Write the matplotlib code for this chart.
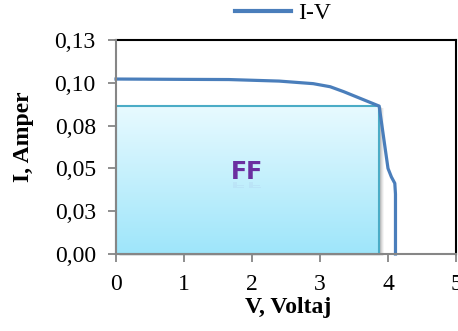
import numpy as np
import matplotlib
matplotlib.use("Agg")
import matplotlib.pyplot as plt
from decimal import Decimal, ROUND_HALF_UP
from matplotlib.patches import Rectangle, PathPatch
from matplotlib.ticker import FuncFormatter
from matplotlib.textpath import TextPath
from matplotlib.font_manager import FontProperties
from matplotlib.transforms import Affine2D, ScaledTranslation

# I-V characteristic
voltage = [0.0, 1.0, 1.66, 2.4, 2.9, 3.15, 3.35, 3.87, 4.0, 4.05, 4.10, 4.11, 4.11]
current = [0.1022, 0.1020, 0.1019, 0.1010, 0.0995, 0.0977, 0.0948, 0.0864,
           0.0500, 0.0450, 0.0413, 0.0350, 0.0]

# maximum power point spanning the fill-factor rectangle
v_mp = 3.87
i_mp = 0.0864

x_ticks = [0, 1, 2, 3, 4, 5]
y_ticks = [0.0, 0.025, 0.05, 0.075, 0.10, 0.125]

serif = "Liberation Serif"
line_color = "#4a7ebb"
label_size = 17


def comma_fmt(v, pos):
    d = Decimal(str(float(v))).quantize(Decimal("0.01"), rounding=ROUND_HALF_UP)
    return f"{d:.2f}".replace(".", ",")


fig = plt.figure(figsize=(4.58, 3.31), dpi=100)
ax = fig.add_axes([116 / 458, 77 / 331, 340 / 458, 214 / 331])
ax.set_xlim(0, 5)
ax.set_ylim(0, 0.125)

# soft drop shadow of the rectangle
for k, a in enumerate([0.10, 0.08, 0.06, 0.04]):
    dx = 0.02 + 0.015 * k
    dy = 0.0004 + 0.0003 * k
    ax.add_patch(Rectangle((0 + dx, 0 - dy), v_mp, i_mp, facecolor="#000000",
                           edgecolor="none", alpha=a, zorder=1, clip_on=False))

# gradient-filled rectangle
grad = np.linspace(0, 1, 256).reshape(-1, 1)
top = np.array([0.91, 0.98, 1.0])
bot = np.array([0.62, 0.90, 0.98])
img = top * (1 - grad[..., None]) + bot * grad[..., None]
img = img[::-1]
im = ax.imshow(img, extent=(0, v_mp, 0, i_mp), aspect="auto", origin="lower",
               zorder=2, interpolation="bilinear")
rect = Rectangle((0, 0), v_mp, i_mp, facecolor="none", edgecolor="#4bacc6",
                 linewidth=1.5, zorder=3, clip_on=False)
ax.add_patch(rect)
im.set_clip_path(rect)

# "FF" label with a faint mirrored reflection below it
ff_x, ff_base = 1.92, 0.0436
ff_size = 17
ff_font = FontProperties(family="DejaVu Sans", weight="bold", size=ff_size)
ax.text(ff_x, ff_base, "FF", color="#6b2fa0", family="DejaVu Sans", fontweight="bold",
        fontsize=ff_size, ha="center", va="baseline", zorder=4)
tp = TextPath((0, 0), "FF", size=ff_size, prop=ff_font)
ext = tp.get_extents()
refl_tr = (Affine2D().translate(-(ext.x0 + ext.x1) / 2, 0).scale(1 / 72, -0.35 / 72)
           + fig.dpi_scale_trans
           + ScaledTranslation(ff_x, ff_base - 0.0018, ax.transData))
ax.add_patch(PathPatch(tp, transform=refl_tr, facecolor="#6b2fa0", edgecolor="none",
                       alpha=0.05, zorder=4))

ax.plot(voltage, current, color=line_color, linewidth=2.3, zorder=5,
        label="I-V", solid_joinstyle="round", clip_on=False)

ax.set_xticks(x_ticks)
ax.set_yticks(y_ticks)
ax.yaxis.set_major_formatter(FuncFormatter(comma_fmt))
ax.tick_params(axis="both", direction="out", length=5.5, width=1.3, color="#868686",
               labelsize=label_size)
ax.tick_params(axis="y", pad=9)
ax.tick_params(axis="x", pad=9)
for lab in ax.get_xticklabels() + ax.get_yticklabels():
    lab.set_family(serif)

for side in ("top", "right"):
    ax.spines[side].set_color("black")
    ax.spines[side].set_linewidth(1.5)
for side in ("left", "bottom"):
    ax.spines[side].set_color("#868686")
    ax.spines[side].set_linewidth(1.5)
    ax.spines[side].set_zorder(6)

ax.set_xlabel("V, Voltaj", family=serif, fontsize=label_size, fontweight="bold")
ax.set_ylabel("I, Amper", family=serif, fontsize=label_size, fontweight="bold")
ax.xaxis.set_label_coords(0.506, -0.2)
ax.yaxis.set_label_coords(-0.24, 0.549)

leg = fig.legend(loc="center", bbox_to_anchor=(283 / 458, 1 - 13 / 331), frameon=False,
                 prop={"family": serif, "size": label_size}, handlelength=2.4,
                 handletextpad=0.3, borderpad=0)
for h in leg.get_lines():
    h.set_linewidth(3)

fig.savefig("out.png", dpi=100)
